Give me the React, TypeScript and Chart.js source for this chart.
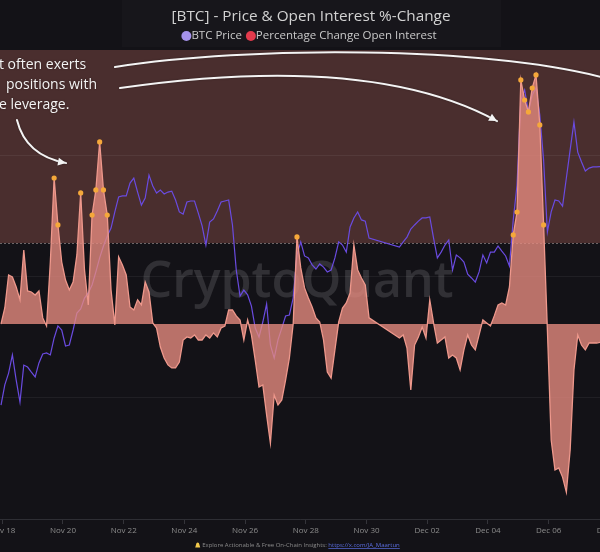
import React, { useEffect, useRef } from 'react';
import { Chart, registerables } from 'chart.js';

Chart.register(...registerables);

// ---------- data ----------
const START_HOUR = -1; // first sample: Nov 17, 23:00 (hours since Nov 18 00:00)
const STEP_HOURS = 3;
const X_MIN_HOUR = -1.8;
const X_MAX_HOUR = 472.6;

const X_TICK_HOURS = [0, 48, 96, 144, 192, 240, 288, 336, 384, 432, 480];
const X_TICK_LABELS = ['Nov 18', 'Nov 20', 'Nov 22', 'Nov 24', 'Nov 26', 'Nov 28', 'Nov 30', 'Dec 02', 'Dec 04', 'Dec 06', 'Dec 08'];

// Percentage change of open interest (%), null = missing data
const OI_CHANGE: (number | null)[] = [
  0.0, 0.79, 2.42, 2.32, 1.83, 1.19, 3.65, 1.63, 1.58, 1.43,
  1.63, 0.3, -0.1, 3.06, 7.21, 4.89, 3.06, 2.17, 1.68, 2.07,
  3.41, 6.47, 2.67, 0.94, 5.38, 6.62, 8.99, 6.62, 5.38, 1.68,
  -0.05, 3.31, 2.91, 2.42, 0.84, 0.69, 1.19, 0.94, 2.07, 1.58,
  0.05, -0.2, -1.14, -1.68, -2.02, -2.17, -2.17, -1.88, -0.79, -0.64,
  -0.69, -0.54, -0.79, -0.79, -0.54, -0.69, -0.44, -0.64, -0.2, -0.1,
  0.69, 0.69, 0.4, 0.2, -0.79, 0.2, -0.54, -1.78, -3.11, -3.01,
  -4.49, -5.88, -3.51, -4.0, -3.75, -2.77, -1.68, 0.0, 4.3, 2.77,
  1.78, 1.28, 0.84, 0.3, 0.1, -0.79, -2.37, -2.67, -1.28, 0.1,
  0.79, 1.04, 1.53, 3.9, 2.67, 2.27, 1.93, 0.3, null, null,
  null, null, null, null, null, -0.69, -0.54, -1.19, -3.26, -1.04,
  -0.64, -0.15, -0.69, 1.19, 0.05, -0.94, -0.79, -0.64, -1.68, -1.53,
  -1.68, -2.27, -1.28, -0.54, -1.04, -1.28, -0.54, 0.2, 0.05, -0.1,
  0.4, 0.94, 1.04, 0.94, 1.83, 4.4, 5.53, 12.05, 11.06, 10.47,
  11.65, 12.3, 9.83, 4.89, -0.3, -5.73, -7.21, -7.11, -7.56, -8.3,
  -6.22, -2.27, -0.54, -1.04, -1.28, -0.94, -0.94, -0.94, -0.9,
];

// BTC price (USD), null = missing data
const BTC_PRICE: (number | null)[] = [
  89710, 90540, 91030, 91780, 90740, 89830, 91360, 91280, 91070, 90870,
  91450, 91820, 91860, 91780, 92480, 92980, 92810, 92150, 92190, 92810,
  93510, 93680, 94130, 94340, 94670, 95210, 95790, 96280, 96690, 97020,
  97690, 98310, 98350, 98350, 98880, 99090, 98510, 97970, 98260, 99210,
  98760, 98470, 98590, 98430, 98510, 98550, 98180, 97690, 97600, 98100,
  98140, 98140, 97640, 97110, 96320, 97270, 97400, 97730, 98100, 98140,
  98180, 97150, 95290, 94210, 94460, 94260, 93800, 92890, 92520, 93140,
  93880, 92190, 91650, 92400, 92890, 93390, 93430, 94130, 95910, 96450,
  95870, 95790, 95500, 95330, 95540, 95410, 95210, 95290, 95790, 96450,
  96320, 96030, 97070, 97440, 97690, 97360, 97310, 96610, null, null,
  null, null, null, null, null, 96240, 96450, 96650, 96980, 97150,
  97310, 97440, 97440, 97480, 96610, 95790, 96030, 96320, 96530, 95290,
  95910, 95790, 95620, 95120, 94960, 94790, 95210, 95910, 95580, 96030,
  96030, 96280, 96070, 95870, 95450, 97360, 98800, 102310, 102730, 101820,
  102520, 102810, 101690, 99830, 96860, 97690, 98180, 98140, 97930, 99090,
  100250, 101400, 100160, 99750, 99380, 99500, 99550, 99550, 99560,
];

const OI_THRESHOLD = 4;
const OI_MIN = -9.63;
const OI_MAX = 13.53;
const PRICE_MIN = 85000;
const PRICE_MAX = 104380;
const PRICE_GRID = [85000, 90000, 95000, 100000];

const TITLE = '[BTC] - Price & Open Interest %-Change';
const LEGEND_PRICE = 'BTC Price';
const LEGEND_OI = 'Percentage Change Open Interest';
const WATERMARK = 'CryptoQuant';
const FOOTER_TEXT = 'Explore Actionable & Free On-Chain Insights: ';
const FOOTER_LINK = 'https://x.com/JA_Maartun';
const NOTE_LINES = ['t often exerts', 'positions with', 'e leverage.'];
// note anchors in data units [hour, OI %]
const NOTE_ANCHORS = [[-2.6, 12.79], [2.93, 11.8], [-2.6, 10.81]];
// arrows as bezier control points in data units [hour, OI %]
const ARROWS = [
  { pts: [[89.1, 12.69], [195.9, 13.73], [377.7, 13.73], [476.6, 12.15]], head: false },
  { pts: [[93.1, 11.65], [203.8, 12.64], [314.5, 12.64], [391.2, 10.02]], head: true },
  { pts: [[11.6, 10.07], [18.7, 8.3], [50.4, 7.95]], head: true },
];

// ---------- styles ----------
const FONT = '"Open Sans", "Noto Sans", sans-serif';
const BG = '#131217';
const BAND = '#4a2e2e';
const PRICE_COLOR = '#6a4be0';
const OI_LINE = 'rgb(238,152,140)';
const OI_FILL = 'rgba(232,140,128,0.78)';
const DOT = '#f5a83a';

function arrowHead(ctx: CanvasRenderingContext2D, fx: number, fy: number, tx: number, ty: number) {
  const a = Math.atan2(ty - fy, tx - fx);
  const len = 8;
  const w = 4;
  ctx.beginPath();
  ctx.moveTo(tx, ty);
  ctx.lineTo(tx - len * Math.cos(a) + w * Math.sin(a), ty - len * Math.sin(a) - w * Math.cos(a));
  ctx.lineTo(tx - len * Math.cos(a) - w * Math.sin(a), ty - len * Math.sin(a) + w * Math.cos(a));
  ctx.closePath();
  ctx.fill();
}

const decorPlugin = {
  id: 'decor',
  beforeDraw(chart: any) {
    const { ctx, chartArea, scales } = chart;
    ctx.save();
    ctx.fillStyle = BG;
    ctx.fillRect(0, 0, chart.width, chart.height);
    ctx.fillStyle = '#17161b';
    ctx.fillRect(122, 0, 379, chartArea.top - 3);
    const yT = scales.yOI.getPixelForValue(OI_THRESHOLD);
    ctx.fillStyle = BAND;
    ctx.fillRect(chartArea.left, chartArea.top, chartArea.right - chartArea.left, yT - chartArea.top);
    ctx.restore();
  },
  beforeDatasetsDraw(chart: any) {
    const { ctx, chartArea, scales } = chart;
    ctx.save();
    // watermark
    ctx.font = `600 50px ${FONT}`;
    ctx.fillStyle = 'rgba(255,255,255,0.13)';
    ctx.textAlign = 'center';
    ctx.textBaseline = 'middle';
    ctx.fillText(WATERMARK, (chartArea.left + chartArea.right) / 2 - 3, (chartArea.top + chartArea.bottom) / 2 - 2);
    // threshold dashed line
    const yT = scales.yOI.getPixelForValue(OI_THRESHOLD);
    ctx.strokeStyle = 'rgba(150,140,140,0.7)';
    ctx.lineWidth = 1;
    ctx.setLineDash([2, 2]);
    ctx.beginPath();
    ctx.moveTo(chartArea.left, yT + 0.5);
    ctx.lineTo(chartArea.right, yT + 0.5);
    ctx.stroke();
    ctx.restore();
  },
  afterDatasetsDraw(chart: any) {
    const { ctx, scales } = chart;
    const px = (p: number[]) => [scales.x.getPixelForValue(p[0]), scales.yOI.getPixelForValue(p[1])];
    ctx.save();
    ctx.strokeStyle = '#f4f4f4';
    ctx.fillStyle = '#f4f4f4';
    ctx.lineWidth = 2;
    ctx.lineCap = 'round';
    ctx.shadowColor = 'rgba(0,0,0,0.35)';
    ctx.shadowBlur = 2;
    for (const ar of ARROWS) {
      const p = ar.pts.map(px);
      ctx.beginPath();
      ctx.moveTo(p[0][0], p[0][1]);
      if (p.length === 4) ctx.bezierCurveTo(p[1][0], p[1][1], p[2][0], p[2][1], p[3][0], p[3][1]);
      else ctx.quadraticCurveTo(p[1][0], p[1][1], p[2][0], p[2][1]);
      ctx.stroke();
      if (ar.head) {
        const n = p.length;
        arrowHead(ctx, p[n - 2][0], p[n - 2][1], p[n - 1][0], p[n - 1][1]);
      }
    }
    ctx.font = `14px ${FONT}`;
    ctx.textAlign = 'left';
    ctx.textBaseline = 'middle';
    NOTE_LINES.forEach((t, i) => {
      const [x, y] = px(NOTE_ANCHORS[i]);
      ctx.fillText(t, x, y);
    });
    ctx.restore();
  },
  afterDraw(chart: any) {
    const { ctx } = chart;
    const cx = 311;
    ctx.save();
    // title
    ctx.font = `15.3px ${FONT}`;
    ctx.fillStyle = '#d2d2d2';
    ctx.textAlign = 'center';
    ctx.textBaseline = 'middle';
    ctx.fillText(TITLE, cx, 17);
    // legend
    ctx.font = `11.5px ${FONT}`;
    const r = 5;
    const w1 = ctx.measureText(LEGEND_PRICE).width;
    const w2 = ctx.measureText(LEGEND_OI).width;
    const total = 2 * r + w1 + 4 + 2 * r + w2;
    let x = 309 - total / 2;
    const ly = 36;
    ctx.textAlign = 'left';
    ctx.fillStyle = '#a592ea';
    ctx.beginPath(); ctx.arc(x + r, ly, r, 0, Math.PI * 2); ctx.fill();
    x += 2 * r;
    ctx.fillStyle = '#c9c9c9';
    ctx.fillText(LEGEND_PRICE, x, ly);
    x += w1 + 4;
    ctx.fillStyle = '#e23a4c';
    ctx.beginPath(); ctx.arc(x + r, ly, r, 0, Math.PI * 2); ctx.fill();
    x += 2 * r;
    ctx.fillStyle = '#c9c9c9';
    ctx.fillText(LEGEND_OI, x, ly);
    // footer
    ctx.font = `6px ${FONT}`;
    const f1 = ctx.measureText(FOOTER_TEXT).width;
    const f2 = ctx.measureText(FOOTER_LINK).width;
    const fy = 545;
    let fx = 297 - (8 + f1 + f2) / 2;
    ctx.fillStyle = '#f2c94c';
    ctx.beginPath();
    ctx.moveTo(fx + 1, fy + 2.5);
    ctx.lineTo(fx + 2, fy - 1);
    ctx.arc(fx + 3.5, fy - 1, 1.5, Math.PI, 0);
    ctx.lineTo(fx + 6, fy + 2.5);
    ctx.closePath();
    ctx.fill();
    fx += 8;
    ctx.fillStyle = '#8a8a8a';
    ctx.fillText(FOOTER_TEXT, fx, fy);
    fx += f1;
    ctx.fillStyle = '#5b6ee0';
    ctx.fillText(FOOTER_LINK, fx, fy);
    ctx.fillRect(fx, fy + 3, f2, 0.7);
    ctx.restore();
  },
};

export default function App() {
  const ref = useRef<HTMLCanvasElement | null>(null);

  useEffect(() => {
    if (!ref.current) return;
    const oiPoints = OI_CHANGE.map((v, i) => ({ x: START_HOUR + i * STEP_HOURS, y: v }));
    const pricePoints = BTC_PRICE.map((v, i) => ({ x: START_HOUR + i * STEP_HOURS, y: v }));
    const chart = new Chart(ref.current, {
      type: 'line',
      data: {
        datasets: [
          {
            label: LEGEND_OI,
            data: oiPoints as any,
            xAxisID: 'x',
            yAxisID: 'yOI',
            borderColor: OI_LINE,
            borderWidth: 1.3,
            backgroundColor: OI_FILL,
            fill: 'origin',
            tension: 0,
            spanGaps: true,
            order: 0,
            pointRadius: (c: any) => (c.raw && c.raw.y != null && c.raw.y > OI_THRESHOLD ? 2.6 : 0),
            pointBackgroundColor: DOT,
            pointBorderWidth: 0,
          },
          {
            label: LEGEND_PRICE,
            data: pricePoints as any,
            xAxisID: 'x',
            yAxisID: 'yPrice',
            borderColor: PRICE_COLOR,
            borderWidth: 1.2,
            fill: false,
            tension: 0,
            spanGaps: true,
            order: 1,
            pointRadius: 0,
          },
        ],
      },
      options: {
        animation: false,
        responsive: false,
        maintainAspectRatio: false,
        devicePixelRatio: 1,
        layout: { padding: { top: 50, left: 0, right: 0, bottom: 0 }, autoPadding: false },
        plugins: { legend: { display: false }, title: { display: false }, tooltip: { enabled: false } },
        scales: {
          x: {
            type: 'linear',
            min: X_MIN_HOUR,
            max: X_MAX_HOUR,
            afterBuildTicks: (s: any) => { s.ticks = X_TICK_HOURS.map((v) => ({ value: v })); },
            ticks: {
              callback: (v: any) => X_TICK_LABELS[X_TICK_HOURS.indexOf(v)] ?? '',
              color: '#8c8c8c',
              font: { family: FONT, size: 8 },
              maxRotation: 0,
              autoSkip: false,
              padding: 2,
            },
            grid: { drawOnChartArea: false, drawTicks: true, tickLength: 5, color: '#34343a' },
            border: { color: '#2e2e34' },
            afterFit: (s: any) => { s.height = 33; s.paddingLeft = 0; s.paddingRight = 0; },
          },
          yOI: {
            position: 'left',
            min: OI_MIN,
            max: OI_MAX,
            ticks: { display: false },
            grid: { display: false },
            border: { display: false },
            afterFit: (s: any) => { s.width = 0; s.paddingTop = 0; s.paddingBottom = 0; },
          },
          yPrice: {
            position: 'right',
            min: PRICE_MIN,
            max: PRICE_MAX,
            afterBuildTicks: (s: any) => { s.ticks = PRICE_GRID.map((v) => ({ value: v })); },
            ticks: { display: false },
            grid: { color: 'rgba(255,255,255,0.06)', drawTicks: false },
            border: { display: false },
            afterFit: (s: any) => { s.width = 0; s.paddingTop = 0; s.paddingBottom = 0; },
          },
        },
      } as any,
      plugins: [decorPlugin],
    });
    return () => chart.destroy();
  }, []);

  return (
    <div style={{ position: 'absolute', left: 0, top: 0, width: 600, height: 552, background: BG, overflow: 'hidden' }}>
      <canvas ref={ref} width={600} height={552} style={{ display: 'block' }} />
    </div>
  );
}
